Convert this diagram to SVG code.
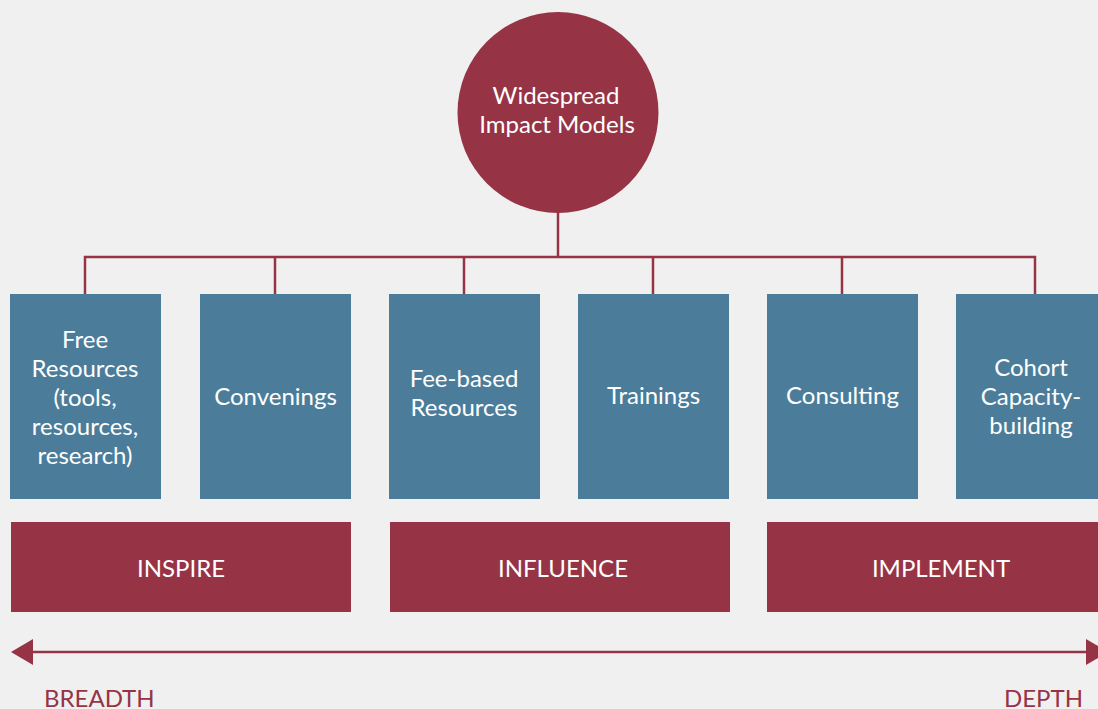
<svg xmlns="http://www.w3.org/2000/svg" width="1098" height="709" viewBox="0 0 1098 709">
<defs>
<style>
.bg{fill:#f0f0f0}
.m{fill:#963446}
.b{fill:#4b7d9b}
.t{font-family:Lato,"Noto Sans","Liberation Sans",sans-serif;font-size:24px;fill:#ffffff;text-anchor:middle}
.lbl{font-family:Lato,"Noto Sans","Liberation Sans",sans-serif;font-size:24px;fill:#963446}
.c{stroke:#963446;stroke-width:2.5;fill:none}
</style>
<marker id="ah" viewBox="0 0 22 26" refX="0" refY="13" markerWidth="22" markerHeight="26" markerUnits="userSpaceOnUse" orient="auto-start-reverse">
<path d="M0,0 L22,13 L0,26 Z" fill="#963446"/>
</marker>
</defs>
<rect class="bg" x="0" y="0" width="1098" height="709"/>
<g id="connectors">
<path class="c" d="M558,212 V257 M85,294 V257 H1035 V294 M275,257 V294 M464,257 V294 M653,257 V294 M842,257 V294"/>
<line class="c" x1="33" y1="652" x2="1086" y2="652" marker-start="url(#ah)" marker-end="url(#ah)"/>
</g>
<g id="root">
<circle class="m" cx="558" cy="112.5" r="100.5"/>
<text class="t" x="556" y="104">Widespread</text>
<text class="t" x="557" y="133">Impact Models</text>
</g>
<g id="n1">
<rect class="b" x="10" y="294" width="151" height="205"/>
<text class="t" x="85" y="348">Free</text>
<text class="t" x="85" y="377">Resources</text>
<text class="t" x="85" y="406">(tools,</text>
<text class="t" x="85" y="435">resources,</text>
<text class="t" x="85" y="464">research)</text>
</g>
<g id="n2">
<rect class="b" x="200" y="294" width="151" height="205"/>
<text class="t" x="275.5" y="405">Convenings</text>
</g>
<g id="n3">
<rect class="b" x="389" y="294" width="151" height="205"/>
<text class="t" x="464" y="387">Fee-based</text>
<text class="t" x="464" y="416">Resources</text>
</g>
<g id="n4">
<rect class="b" x="578" y="294" width="151" height="205"/>
<text class="t" x="653.5" y="404">Trainings</text>
</g>
<g id="n5">
<rect class="b" x="767" y="294" width="151" height="205"/>
<text class="t" x="842.5" y="404">Consulting</text>
</g>
<g id="n6">
<rect class="b" x="956" y="294" width="151" height="205"/>
<text class="t" x="1031" y="376">Cohort</text>
<text class="t" x="1031" y="405">Capacity-</text>
<text class="t" x="1031" y="434">building</text>
</g>
<g id="inspire">
<rect class="m" x="11" y="522" width="340" height="90"/>
<text class="t" x="181" y="577">INSPIRE</text>
</g>
<g id="influence">
<rect class="m" x="390" y="522" width="340" height="90"/>
<text class="t" x="563" y="577">INFLUENCE</text>
</g>
<g id="implement">
<rect class="m" x="767" y="522" width="350" height="90"/>
<text class="t" x="941" y="577">IMPLEMENT</text>
</g>
<text class="lbl" x="44" y="707">BREADTH</text>
<text class="lbl" x="1083" y="707" text-anchor="end">DEPTH</text>
</svg>
